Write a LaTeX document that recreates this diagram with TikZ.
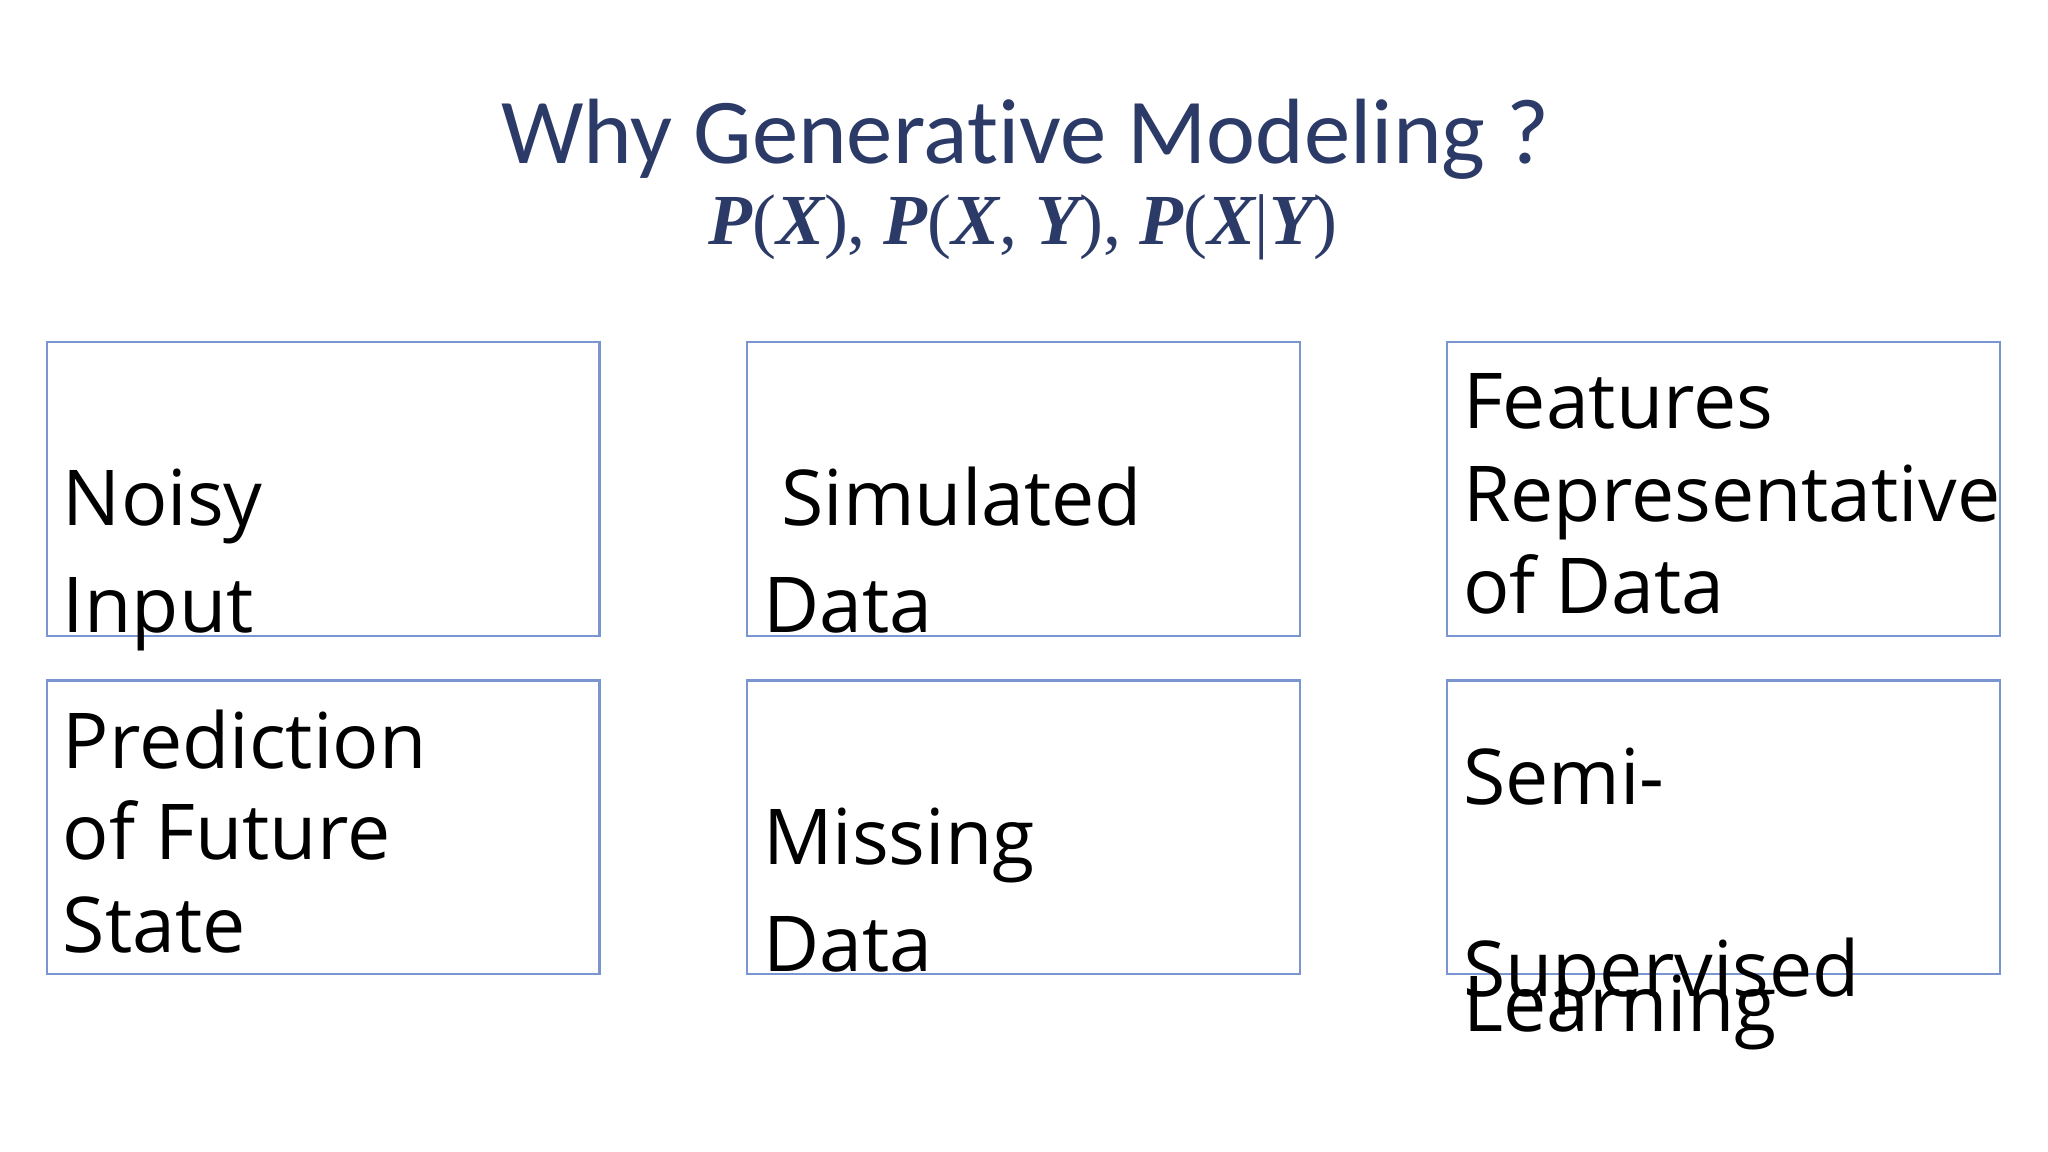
\documentclass[tikz,border=0pt]{standalone}
\usepackage{fontspec}
\setmainfont{Open Sans}
\newfontfamily\titlefont[Ligatures=NoCommon]{Carlito}
\newfontfamily\mathish{Liberation Serif}
\definecolor{navy}{HTML}{2B3A67}
\definecolor{boxblue}{HTML}{7A96D0}
\newcommand{\bv}[1]{{\bfseries\itshape #1}}
\begin{document}
\begin{tikzpicture}[x=1pt,y=-1pt,
  card/.style={draw=boxblue,line width=1.6pt},
  lbl/.style={anchor=base west,inner sep=0pt,font=\fontsize{59}{59}\selectfont,text=black}]
\useasboundingbox (0,0) rectangle (1568,882);
\fill[white] (0,0) rectangle (1568,882);
\node[anchor=base,inner sep=0pt,text=navy,font=\titlefont\fontsize{71}{71}\selectfont] (title) at (785,125) {Why Generative Modeling ?};
\node[anchor=base,inner sep=0pt,text=navy,font=\mathish\fontsize{55}{55}\selectfont] (sub) at (783,187) {\bv{P}(\bv{X}), \bv{P}(\bv{X}, \bv{Y}), \bv{P}(\bv{X}|\bv{Y})};
\draw[card] (36,262) rectangle (459,487);
\draw[card] (572,262) rectangle (995,487);
\draw[card] (1108,262) rectangle (1531,487);
\draw[card] (36,521) rectangle (459,746);
\draw[card] (572,521) rectangle (995,746);
\draw[card] (1108,521) rectangle (1531,746);
\node[lbl] (a1) at (48,402) {Noisy};
\node[lbl] (a2) at (48,484) {Input};
\node[lbl] (b1) at (598,402) {Simulated};
\node[lbl] (b2) at (584,484) {Data};
\node[lbl] (c1) at (1120,328) {Features};
\node[lbl] (c2) at (1120,399) {Representative};
\node[lbl] (c3) at (1120,470) {of Data};
\node[lbl] (d1) at (48,588) {Prediction};
\node[lbl] (d2) at (48,658) {of Future};
\node[lbl] (d3) at (48,729) {State};
\node[lbl] (e1) at (584,662) {Missing};
\node[lbl] (e2) at (584,744) {Data};
\node[lbl] (f1) at (1120,616) {Semi-};
\node[lbl] (f2) at (1120,763) {Supervised};
\node[lbl] (f3) at (1120,790) {Learning};
\end{tikzpicture}
\end{document}
